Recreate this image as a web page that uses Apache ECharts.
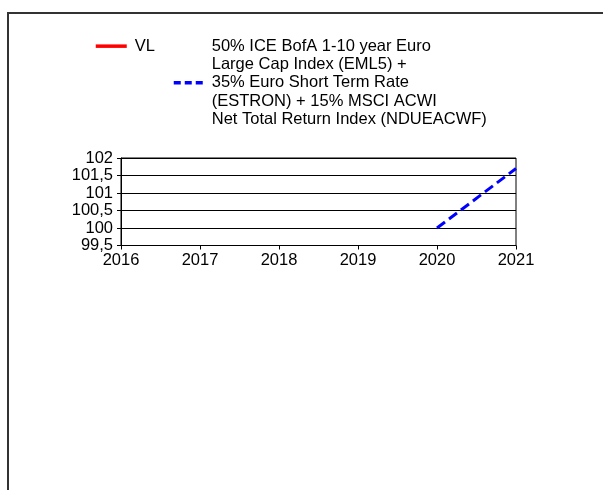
<!DOCTYPE html>
<html>
<head>
<meta charset="utf-8">
<script src="https://cdn.jsdelivr.net/npm/echarts@6/dist/echarts.min.js"></script>
<style>
  html, body { margin: 0; padding: 0; background: #fff; }
  #frame {
    position: absolute; left: 7px; top: 12px; width: 620px; height: 500px;
    border-top: 2px solid #333; border-left: 2px solid #333;
  }
  #PerfChart { position: absolute; left: 0; top: 0; width: 603px; height: 490px; }
</style>
</head>
<body>
<div id="frame"></div>
<div id="PerfChart"></div>
<script>
// series data
const vlName = "VL";
const benchName = "50% ICE BofA 1-10 year Euro\nLarge Cap Index (EML5) +\n35% Euro Short Term Rate\n(ESTRON) + 15% MSCI ACWI\nNet Total Return Index (NDUEACWF)";
const vlYears = [];
const vlValues = [];
const benchYears = [2020, 2021];
const benchValues = [100, 101.7];

// axis ranges
const yearMin = 2016;
const yearMax = 2021;
const valueMin = 99.5;
const valueMax = 102;
const valueStep = 0.5;

const font = "'Liberation Sans', Arial, sans-serif";

function pairs(xs, ys) {
  return xs.map((x, i) => [x, ys[i]]);
}

var myChart = echarts.init(document.getElementById("PerfChart"));
var legendText = { fontSize: 16.5, color: "#000", lineHeight: 18.3, fontFamily: font };
var option = {
  animation: false,
  textStyle: { fontFamily: font },
  legend: [
    {
      data: [vlName],
      left: 94,
      top: 37,
      padding: 0,
      itemWidth: 31,
      itemHeight: 10,
      itemStyle: { opacity: 0 },
      lineStyle: { width: 3.5 },
      textStyle: Object.assign({}, legendText, { padding: [0, 0, 0, 3] }),
    },
    {
      data: [benchName],
      left: 172,
      top: 37,
      padding: 0,
      itemWidth: 32,
      itemHeight: 10,
      itemStyle: { opacity: 0 },
      lineStyle: { width: 3.5, type: [7, 4] },
      textStyle: Object.assign({}, legendText, { padding: [0, 0, 0, 1] }),
    },
  ],
  grid: {
    left: 121,
    right: 87,
    top: 158,
    height: 87.5,
    show: true,
    borderColor: "#000",
    borderWidth: 1,
    backgroundColor: "transparent",
  },
  xAxis: {
    type: "value",
    min: yearMin,
    max: yearMax,
    interval: 1,
    axisLine: { show: true, lineStyle: { color: "#000", width: 1 } },
    axisTick: { show: true, length: 4, lineStyle: { color: "#000" } },
    splitLine: { show: false },
    axisLabel: {
      fontSize: 16.5,
      color: "#000",
      margin: 6,
      fontFamily: font,
      formatter: (v) => String(v),
    },
  },
  yAxis: {
    type: "value",
    min: valueMin,
    max: valueMax,
    interval: valueStep,
    axisLine: { show: true, lineStyle: { color: "#000", width: 1 } },
    axisTick: { show: true, length: 4, lineStyle: { color: "#000" } },
    splitLine: { show: true, lineStyle: { color: "#000", width: 1 } },
    axisLabel: {
      fontSize: 16.5,
      color: "#000",
      margin: 8,
      fontFamily: font,
      formatter: (v) => String(v).replace(".", ","),
    },
  },
  series: [
    {
      name: vlName,
      type: "line",
      symbol: "none",
      data: pairs(vlYears, vlValues),
      lineStyle: { color: "#ff0000", width: 3 },
      itemStyle: { color: "#ff0000" },
    },
    {
      name: benchName,
      type: "line",
      symbol: "none",
      data: pairs(benchYears, benchValues),
      lineStyle: { color: "#0000ff", width: 3, type: [10, 5] },
      itemStyle: { color: "#0000ff" },
    },
  ],
};
myChart.setOption(option);
</script>
</body>
</html>
